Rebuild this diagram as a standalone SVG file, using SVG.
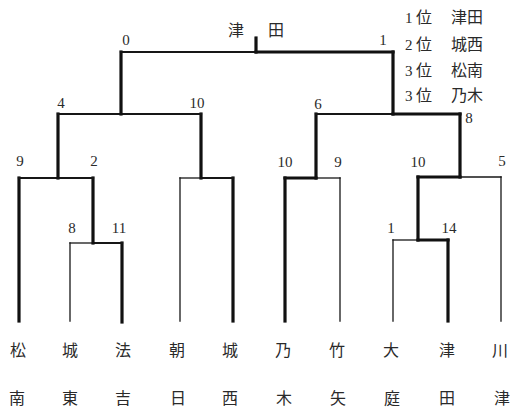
<svg xmlns="http://www.w3.org/2000/svg" width="514" height="408" viewBox="0 0 514 408">
<style>
.bg{fill:#ffffff}
.tn{fill:none;stroke:#161616;stroke-width:1.3;stroke-linecap:square}
.tk{fill:none;stroke:#111111;stroke-width:3.2;stroke-linecap:square}
.md{fill:none;stroke:#161616;stroke-width:2.2;stroke-linecap:square}
.name{font-family:"Noto Sans CJK JP","Noto Sans CJK SC",sans-serif;font-size:16px;fill:#2a2a2a;text-anchor:middle}
.num{font-family:"Liberation Serif",serif;font-size:15px;fill:#2a2a2a;text-anchor:middle}
.leg{font-family:"Liberation Serif","Noto Sans CJK JP",serif;font-size:15px;fill:#2a2a2a}
.legj{font-family:"Noto Sans CJK JP","Noto Sans CJK SC",sans-serif;font-size:16px;fill:#2a2a2a}
</style>
<rect class="bg" x="0" y="0" width="514" height="408"/>

<g id="connectors">
  <line class="tn" x1="70" y1="243" x2="70" y2="321"/>
  <line class="tk" x1="122" y1="243" x2="122" y2="322"/>
  <line class="tn" x1="70" y1="243" x2="93" y2="243"/>
  <line class="md" x1="93" y1="243" x2="122" y2="243"/>
  <line class="tk" x1="93" y1="178" x2="93" y2="243"/>
  <line class="tk" x1="19" y1="178" x2="19" y2="321"/>
  <line class="md" x1="19" y1="178" x2="58" y2="178"/>
  <line class="md" x1="58" y1="178" x2="93" y2="178"/>
  <line class="tk" x1="58" y1="114" x2="58" y2="178"/>
  <line class="tn" x1="180" y1="178" x2="180" y2="321"/>
  <line class="tk" x1="233" y1="178" x2="233" y2="321"/>
  <line class="tn" x1="180" y1="178" x2="201" y2="178"/>
  <line class="md" x1="201" y1="178" x2="233" y2="178"/>
  <line class="tk" x1="201" y1="114" x2="201" y2="178"/>
  <line class="md" x1="58" y1="114" x2="121" y2="114"/>
  <line class="md" x1="121" y1="114" x2="201" y2="114"/>
  <line class="tk" x1="121" y1="52" x2="121" y2="114"/>
  <line class="md" x1="121" y1="52" x2="256" y2="52"/>
  <line class="tk" x1="256" y1="52" x2="393" y2="52"/>
  <line class="tk" x1="256" y1="38" x2="256" y2="52"/>
  <line class="tk" x1="285" y1="178" x2="285" y2="321"/>
  <line class="tn" x1="340" y1="178" x2="340" y2="321"/>
  <line class="tk" x1="285" y1="178" x2="316" y2="178"/>
  <line class="tn" x1="316" y1="178" x2="340" y2="178"/>
  <line class="tk" x1="316" y1="114" x2="316" y2="178"/>
  <line class="tn" x1="393" y1="240" x2="393" y2="321"/>
  <line class="tk" x1="448" y1="240" x2="448" y2="321"/>
  <line class="tn" x1="393" y1="240" x2="418" y2="240"/>
  <line class="tk" x1="418" y1="240" x2="448" y2="240"/>
  <line class="tk" x1="418" y1="177" x2="418" y2="240"/>
  <line class="tn" x1="501" y1="177" x2="501" y2="321"/>
  <line class="tk" x1="418" y1="177" x2="460" y2="177"/>
  <line class="tn" x1="460" y1="177" x2="501" y2="177"/>
  <line class="tk" x1="460" y1="114" x2="460" y2="177"/>
  <line class="md" x1="316" y1="114" x2="393" y2="114"/>
  <line class="tk" x1="393" y1="114" x2="460" y2="114"/>
  <line class="tk" x1="393" y1="52" x2="393" y2="114"/>
</g>

<g id="scores">
  <text class="num" x="126" y="45">0</text>
  <text class="num" x="383" y="45">1</text>
  <text class="num" x="61" y="108">4</text>
  <text class="num" x="197" y="108">10</text>
  <text class="num" x="318" y="109">6</text>
  <text class="num" x="469" y="123">8</text>
  <text class="num" x="20" y="166">9</text>
  <text class="num" x="94" y="166">2</text>
  <text class="num" x="72" y="233">8</text>
  <text class="num" x="119" y="233">11</text>
  <text class="num" x="285" y="167">10</text>
  <text class="num" x="338" y="167">9</text>
  <text class="num" x="418" y="167">10</text>
  <text class="num" x="502" y="166">5</text>
  <text class="num" x="391" y="233">1</text>
  <text class="num" x="449" y="233">14</text>
</g>

<g id="champion">
  <text class="name" x="236" y="36">津</text>
  <text class="name" x="276" y="36">田</text>
</g>

<g id="legend">
  <text class="leg" x="405" y="23">1</text><text class="legj" x="416" y="23">位</text><text class="legj" x="451" y="23">津田</text>
  <text class="leg" x="405" y="50">2</text><text class="legj" x="416" y="50">位</text><text class="legj" x="451" y="50">城西</text>
  <text class="leg" x="405" y="76">3</text><text class="legj" x="416" y="76">位</text><text class="legj" x="451" y="76">松南</text>
  <text class="leg" x="405" y="101">3</text><text class="legj" x="416" y="101">位</text><text class="legj" x="451" y="101">乃木</text>
</g>

<g id="team-shonan"><text class="name" x="18" y="356">松</text><text class="name" x="17" y="404">南</text></g>
<g id="team-joto"><text class="name" x="70" y="356">城</text><text class="name" x="70" y="404">東</text></g>
<g id="team-hokki"><text class="name" x="123" y="356">法</text><text class="name" x="123" y="404">吉</text></g>
<g id="team-asahi"><text class="name" x="177" y="356">朝</text><text class="name" x="178" y="404">日</text></g>
<g id="team-josei"><text class="name" x="230" y="356">城</text><text class="name" x="230" y="404">西</text></g>
<g id="team-nogi"><text class="name" x="283" y="356">乃</text><text class="name" x="284" y="404">木</text></g>
<g id="team-takeya"><text class="name" x="337" y="356">竹</text><text class="name" x="338" y="404">矢</text></g>
<g id="team-oba"><text class="name" x="391" y="356">大</text><text class="name" x="392" y="404">庭</text></g>
<g id="team-tsuda"><text class="name" x="447" y="356">津</text><text class="name" x="447" y="404">田</text></g>
<g id="team-kawatsu"><text class="name" x="500" y="356">川</text><text class="name" x="502" y="404">津</text></g>
</svg>
